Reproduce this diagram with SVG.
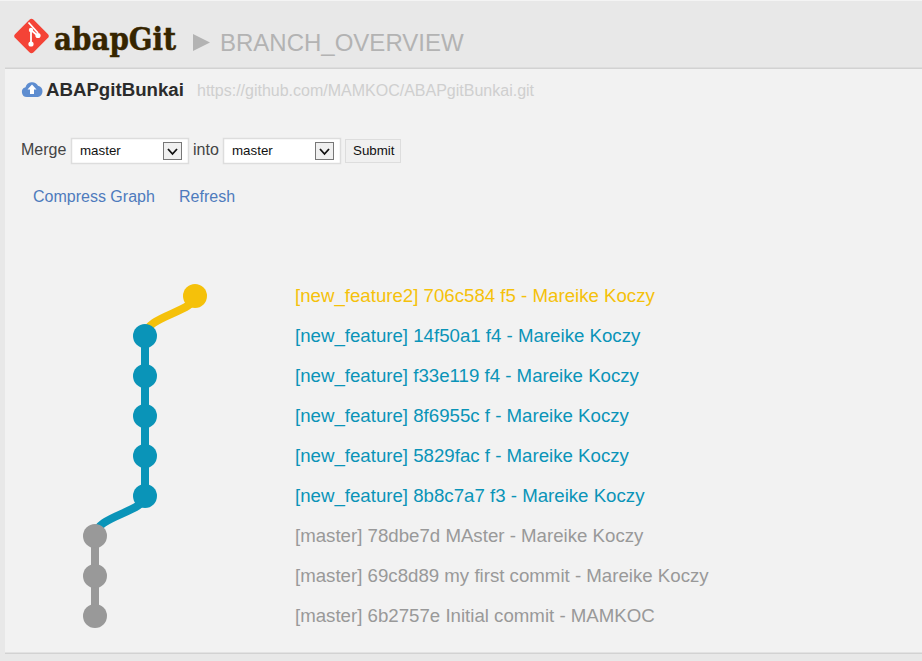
<svg xmlns="http://www.w3.org/2000/svg" width="922" height="661" viewBox="0 0 922 661">
<style>
text{font-family:"Liberation Sans",Arial,sans-serif}
.t{font-size:18.67px}
.y{fill:#f5c10a}.b{fill:#0a94b8}.g{fill:#999}
.ye{stroke:#f5c10a}.be{stroke:#0a94b8}.ge{stroke:#999}
.e{fill:none;stroke-width:8}
.sel{fill:#fff;stroke:#ddd;stroke-width:1.5}
.arr{fill:#f0f0f0;stroke:#777;stroke-width:1}
.chev{fill:none;stroke:#111;stroke-width:1.8}
.link{font-size:16px;fill:#4e7bbd}
.ctl{font-size:13.33px;fill:#111}
</style>
<rect width="922" height="661" fill="#e8e8e8"/>
<rect width="922" height="1" fill="#f4f4f4"/>
<rect x="5" y="69" width="917" height="584" fill="#f2f2f2"/>
<rect x="5" y="67.500" width="917" height="1.500" fill="#d2d2d2"/>
<rect x="5" y="652.500" width="917" height="1.500" fill="#d2d2d2"/>
<g id="header">
<rect x="18.500" y="23" width="26" height="26" rx="3" transform="rotate(45 31.500 36)" fill="#f44336"/>
<path d="M28.500 22.500L38 33M31 30V44M31 30L38 36" fill="none" stroke="#fff" stroke-width="1.800"/>
<circle cx="31" cy="44" r="2.600" fill="#fff"/><circle cx="31" cy="30" r="2.200" fill="#fff"/><circle cx="38" cy="35.500" r="2.600" fill="#fff"/>
<text x="54" y="50" font-size="32" font-weight="700" style='font-family:"DejaVu Serif",serif' fill="#362500" stroke="#362500" stroke-width="0.500" textLength="122" lengthAdjust="spacingAndGlyphs">abapGit</text>
<path d="M193 34L210 42.500L193 51Z" fill="#b3b3b3"/>
<text x="220" y="51" font-size="24" fill="#b3b3b3">BRANCH_OVERVIEW</text>
</g>
<g id="repo">
<path d="M27 97a5 5 0 0 1-1.500-9.800a6.800 6.800 0 0 1 12.500-1.500a5.800 5.800 0 0 1 0 11.300Z" fill="#5e8dd0"/>
<path d="M32 84.500L36.500 89.500H34V94H30V89.500H27.500Z" fill="#fff"/>
<text x="46" y="96" font-size="18.67" font-weight="700" fill="#2b2b2b">ABAPgitBunkai</text>
<text x="197" y="96" font-size="16" fill="#cfcfcf">https://github.com/MAMKOC/ABAPgitBunkai.git</text>
</g>
<g id="merge">
<text x="21" y="155" font-size="16" fill="#444">Merge</text>
<rect x="71.500" y="138.500" width="117" height="25" class="sel"/>
<text x="80" y="155" class="ctl">master</text>
<rect x="163.500" y="142.500" width="18" height="17" class="arr"/><path d="M168 149L172.500 154L177 149" class="chev"/>
<text x="193" y="155" font-size="16" fill="#444">into</text>
<rect x="223.500" y="138.500" width="117" height="25" class="sel"/>
<text x="232" y="155" class="ctl">master</text>
<rect x="315.500" y="142.500" width="18" height="17" class="arr"/><path d="M320 149L324.500 154L329 149" class="chev"/>
<rect x="345.500" y="139.500" width="55" height="23" fill="#f0f0f0" stroke="#ddd"/>
<text x="353" y="155" class="ctl">Submit</text>
</g>
<g id="links">
<text x="33" y="202" class="link">Compress Graph</text>
<text x="179" y="202" class="link">Refresh</text>
</g>
<g id="connectors">
<path class="e ye" d="M195 296C195 312 145 316 145 336"/>
<path class="e be" d="M145 336V496"/>
<path class="e be" d="M145 496C145 512 95 516 95 536"/>
<path class="e ge" d="M95 536V616"/>
</g>
<g id="c1"><circle cx="195" cy="296" r="12" class="y"/><text x="295" y="302" class="t y">[new_feature2] 706c584 f5 - Mareike Koczy</text></g>
<g id="c2"><circle cx="145" cy="336" r="12" class="b"/><text x="295" y="342" class="t b">[new_feature] 14f50a1 f4 - Mareike Koczy</text></g>
<g id="c3"><circle cx="145" cy="376" r="12" class="b"/><text x="295" y="382" class="t b">[new_feature] f33e119 f4 - Mareike Koczy</text></g>
<g id="c4"><circle cx="145" cy="416" r="12" class="b"/><text x="295" y="422" class="t b">[new_feature] 8f6955c f - Mareike Koczy</text></g>
<g id="c5"><circle cx="145" cy="456" r="12" class="b"/><text x="295" y="462" class="t b">[new_feature] 5829fac f - Mareike Koczy</text></g>
<g id="c6"><circle cx="145" cy="496" r="12" class="b"/><text x="295" y="502" class="t b">[new_feature] 8b8c7a7 f3 - Mareike Koczy</text></g>
<g id="c7"><circle cx="95" cy="536" r="12" class="g"/><text x="295" y="542" class="t g">[master] 78dbe7d MAster - Mareike Koczy</text></g>
<g id="c8"><circle cx="95" cy="576" r="12" class="g"/><text x="295" y="582" class="t g">[master] 69c8d89 my first commit - Mareike Koczy</text></g>
<g id="c9"><circle cx="95" cy="616" r="12" class="g"/><text x="295" y="622" class="t g">[master] 6b2757e Initial commit - MAMKOC</text></g>
</svg>
